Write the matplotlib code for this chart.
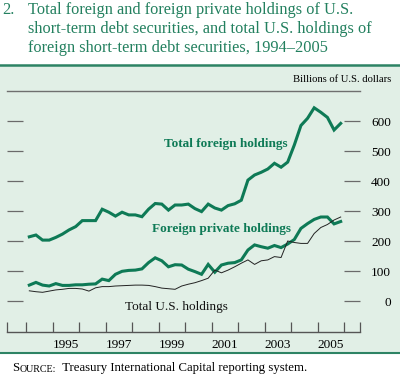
import numpy as np
import matplotlib.pyplot as plt
from matplotlib.patches import Rectangle

# quarterly data, 1994:Q1 - 2005:Q4, billions of U.S. dollars
total_foreign = [214, 220, 203, 203, 212, 223, 237, 248, 268, 268, 268, 306,
                 296, 283, 296, 287, 287, 281, 306, 325, 323, 303, 320, 320,
                 323, 308, 298, 323, 310, 303, 318, 324, 336, 403, 420, 429,
                 440, 459, 446, 463, 520, 585, 609, 644, 629, 612, 570, 592]
foreign_private = [53, 62, 53, 50, 58, 52, 52, 54, 54, 56, 57, 73,
                   68, 89, 99, 102, 103, 107, 128, 144, 134, 114, 121, 120,
                   106, 98, 89, 122, 96, 120, 126, 128, 137, 170, 187, 181,
                   176, 185, 178, 190, 205, 242, 258, 272, 280, 280, 257, 265]
total_us = [34, 31, 29, 33, 37, 39, 42, 42, 40, 33, 44, 48,
            48, 50, 51, 52, 53, 53, 52, 48, 43, 41, 39, 50,
            56, 61, 68, 76, 103, 94, 103, 114, 126, 137, 122, 134,
            137, 148, 145, 200, 195, 192, 192, 225, 245, 255, 270, 280]
year_labels = ['1995', '1997', '1999', '2001', '2003', '2005']
y_ticks = [0, 100, 200, 300, 400, 500, 600]

GREEN = '#0e7a56'
TEXT_GREEN = '#23805f'
BG = '#e1efe6'
SERIF = 'Liberation Serif'

plt.rcParams['font.family'] = SERIF

fig = plt.figure(figsize=(4, 3.75), dpi=100)

# shaded panel with green rules
fig.patches.append(Rectangle((0, 1 - 353 / 375), 1, (353 - 65) / 375,
                             transform=fig.transFigure, facecolor=BG,
                             edgecolor='none', zorder=-5))
fig.lines.append(plt.Line2D([0, 1], [1 - 65 / 375] * 2, transform=fig.transFigure,
                            color='#2d8364', lw=1.8, zorder=-4))
fig.lines.append(plt.Line2D([0, 1], [1 - 353 / 375] * 2, transform=fig.transFigure,
                            color='#2d8364', lw=1.5, zorder=-4))

# title
fig.text(2 / 400, 1 - 10 / 375, '2.', color=TEXT_GREEN, fontsize=11.8, va='center')
title = ['Total foreign and foreign private holdings of U.S.',
         'short-term debt securities, and total U.S. holdings of',
         'foreign short-term debt securities, 1994\u20132005']
for i, line in enumerate(title):
    fig.text(28 / 400, 1 - (10 + 19 * i) / 375, line, color=TEXT_GREEN,
             fontsize=11.8, va='center')

ax = fig.add_axes([7 / 400, 1 - 332 / 375, 353 / 400, 241 / 375])
ax.patch.set_alpha(0)

quarters = np.repeat(np.arange(1994, 2006), 4) + (np.tile(np.arange(4), 12) + 0.5) / 4
ax.plot(quarters, total_foreign, color=GREEN, lw=2.2, solid_joinstyle='miter')
ax.plot(quarters, foreign_private, color=GREEN, lw=2.2, solid_joinstyle='miter')
ax.plot(quarters, total_us, color='#222222', lw=0.7)

x0 = 1994 - 19 / 26.5
x1 = 1994 + 334 / 26.5
ax.set_xlim(x0, x1)
ax.set_ylim(-103.3, 700)

for s in ['left', 'right']:
    ax.spines[s].set_visible(False)
ax.spines['top'].set_color('#6f6f6f')
ax.spines['top'].set_linewidth(1)
ax.spines['bottom'].set_color('#555555')
ax.spines['bottom'].set_linewidth(1)

ax.set_xticks([x0] + list(range(1994, 2007)) + [x1])
ax.set_xticks([int(y) + 0.5 for y in year_labels], minor=True)
ax.set_xticklabels(year_labels, minor=True)
ax.tick_params(axis='x', which='major', direction='in', length=7, width=0.9,
               color='#555555', labelbottom=False)
ax.tick_params(axis='x', which='minor', length=0, pad=5, labelsize=9.5)

ax.set_yticks(y_ticks)
ax.set_yticklabels([str(v) for v in y_ticks])
ax.tick_params(axis='y', which='major', direction='in', length=11.5, width=0.9,
               color='#6a6a6a', left=True, right=True, labelleft=False,
               labelright=True, pad=22.3, labelsize=9.5)
for lab in ax.get_yticklabels():
    lab.set_horizontalalignment('right')

fig.text(391 / 400, 1 - 80 / 375, 'Billions of U.S. dollars', ha='right',
         va='center', fontsize=7.7)

ax.text(1994 + (164 - 26) / 26.5, 523, 'Total foreign holdings', color=GREEN,
        fontweight='bold', fontsize=9.5, va='center')
ax.text(1994 + (152 - 26) / 26.5, 240, 'Foreign private holdings', color=GREEN,
        fontweight='bold', fontsize=9.5, va='center')
ax.text(1994 + (125 - 26) / 26.5, -20, 'Total U.S. holdings', color='#111111',
        fontsize=9.5, va='center')

# source line with small caps
s1 = fig.text(12 / 400, 1 - 371 / 375, 'S', fontsize=9.2, va='baseline')
src = ax.annotate('OURCE:', xy=(1, 0), xycoords=s1, fontsize=7.2, va='bottom',
                  annotation_clip=False)
ax.annotate('  Treasury International Capital reporting system.', xy=(1, 0),
            xycoords=src, fontsize=9.2, va='bottom', annotation_clip=False)

fig.savefig('out.png', dpi=100)
